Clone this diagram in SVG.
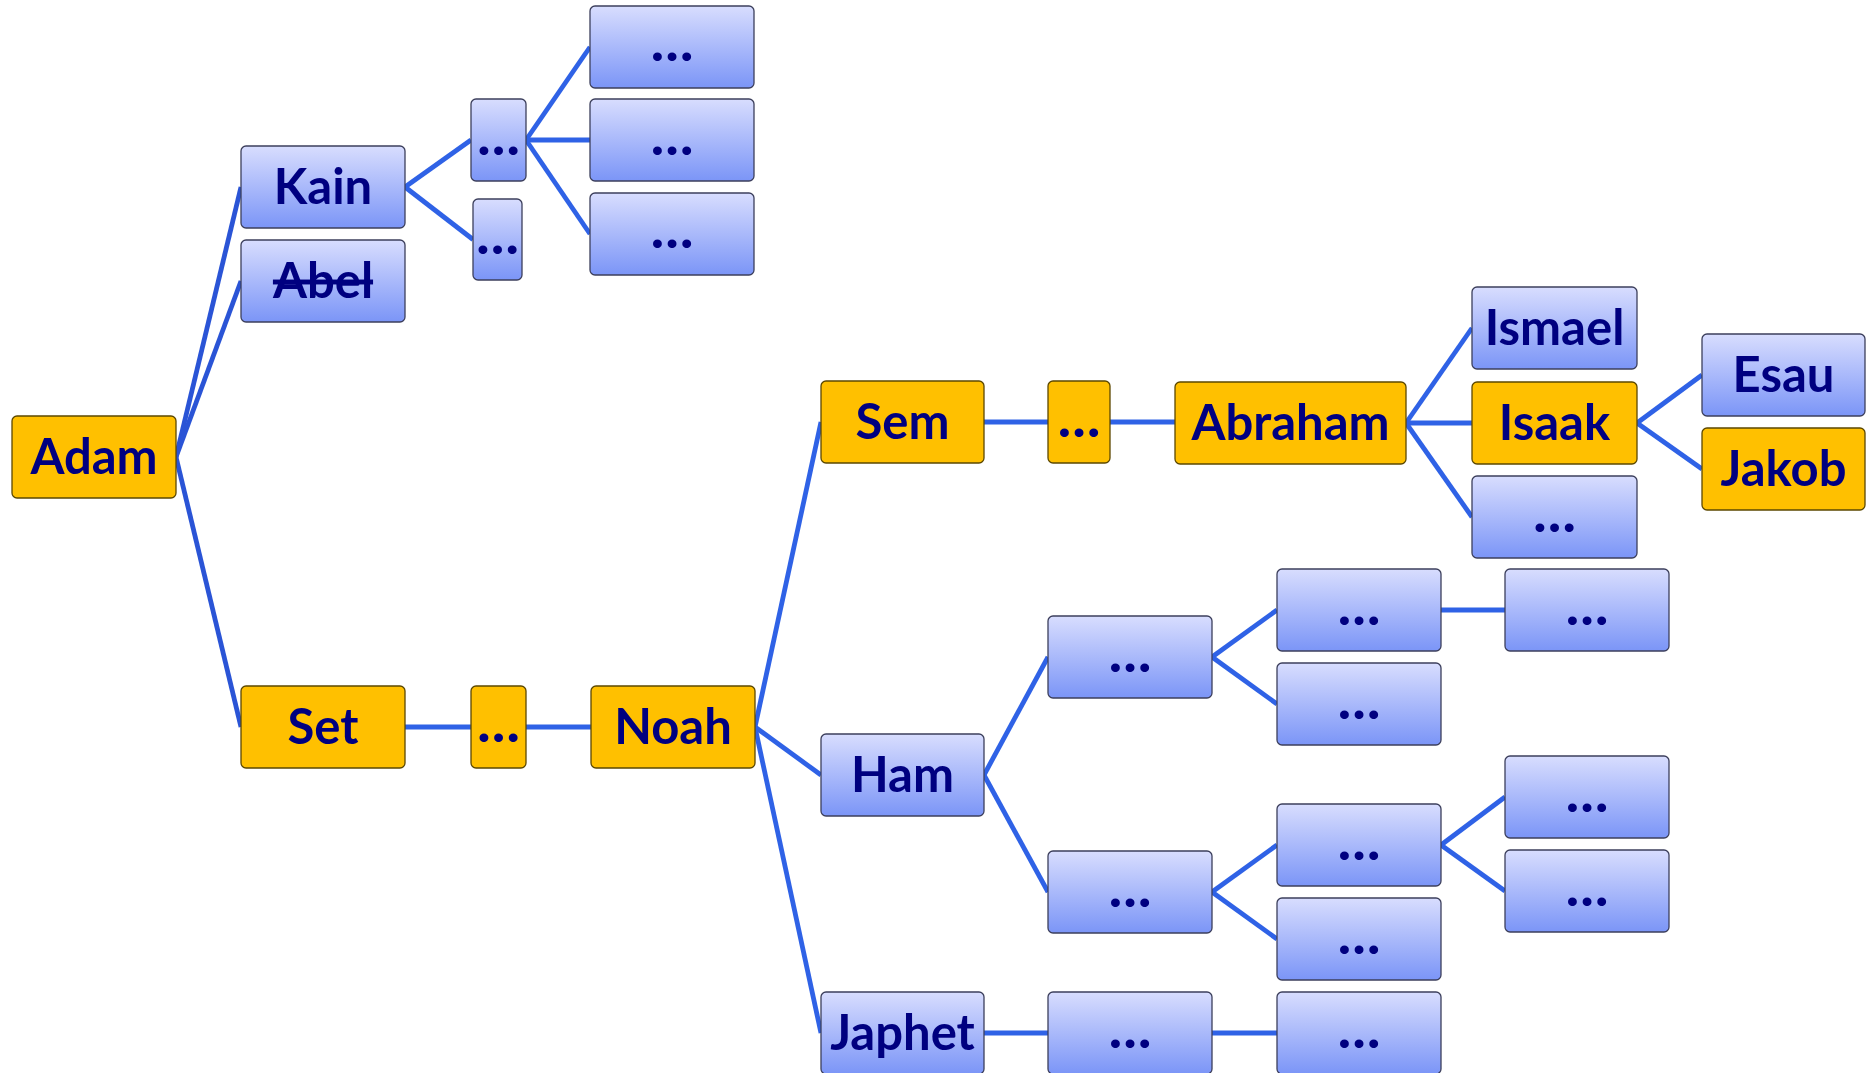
<svg xmlns="http://www.w3.org/2000/svg" width="1866" height="1073" viewBox="0 0 1866 1073">
<defs>
<linearGradient id="gb" x1="0" y1="0" x2="0" y2="1">
<stop offset="0" stop-color="#d8ddfe"/>
<stop offset="1" stop-color="#7b95f7"/>
</linearGradient>
<style>
.b{fill:url(#gb);stroke:#3c3f5c;stroke-width:1.3}
.o{fill:#ffc000;stroke:#5c4800;stroke-width:1.3}
text{font-family:Lato,"Open Sans","Liberation Sans",sans-serif;font-weight:700;font-size:49px;fill:#000080;text-anchor:middle}
text.e{font-size:54px;font-weight:900}
.c line{stroke:#2f62e6;stroke-width:4.8;stroke-linecap:butt}
.c .d{stroke:#2a54d6}
</style>
</defs>
<rect width="1866" height="1073" fill="#ffffff"/>
<g id="connectors" class="c">
<line class="d" x1="176" y1="457" x2="241" y2="187"/>
<line class="d" x1="176" y1="457" x2="241" y2="281"/>
<line class="d" x1="176" y1="457" x2="241" y2="727"/>
<line x1="405" y1="187" x2="471" y2="140"/>
<line x1="405" y1="187" x2="473" y2="239.5"/>
<line x1="526" y1="140" x2="590" y2="47"/>
<line x1="526" y1="140" x2="590" y2="140"/>
<line x1="526" y1="140" x2="590" y2="234"/>
<line x1="405" y1="727" x2="471" y2="727"/>
<line x1="526" y1="727" x2="591" y2="727"/>
<line x1="755" y1="727" x2="821" y2="422"/>
<line x1="755" y1="727" x2="821" y2="775"/>
<line x1="755" y1="727" x2="821" y2="1033"/>
<line x1="984" y1="422" x2="1048" y2="422"/>
<line x1="1110" y1="422" x2="1175" y2="422"/>
<line x1="1406" y1="423" x2="1472" y2="328"/>
<line x1="1406" y1="423" x2="1472" y2="423"/>
<line x1="1406" y1="423" x2="1472" y2="517"/>
<line x1="1637" y1="423" x2="1702" y2="375"/>
<line x1="1637" y1="423" x2="1702" y2="469"/>
<line x1="984" y1="775" x2="1048" y2="657"/>
<line x1="984" y1="775" x2="1048" y2="892"/>
<line x1="1212" y1="657" x2="1277" y2="610"/>
<line x1="1212" y1="657" x2="1277" y2="704"/>
<line x1="1441" y1="610" x2="1505" y2="610"/>
<line x1="1212" y1="892" x2="1277" y2="845"/>
<line x1="1212" y1="892" x2="1277" y2="939"/>
<line x1="1441" y1="845" x2="1505" y2="797"/>
<line x1="1441" y1="845" x2="1505" y2="891"/>
<line x1="984" y1="1033" x2="1048" y2="1033"/>
<line x1="1212" y1="1033" x2="1277" y2="1033"/>
</g>
<g id="adam"><rect class="o" x="12" y="416" width="164" height="82" rx="5"/><text x="94" y="474">Adam</text></g>
<g id="kain"><rect class="b" x="241" y="146" width="164" height="82" rx="5"/><text x="323" y="204">Kain</text></g>
<g id="abel"><rect class="b" x="241" y="240" width="164" height="82" rx="5"/><text x="323" y="298" text-decoration="line-through">Abel</text></g>
<g id="kain-1"><rect class="b" x="471" y="99" width="55" height="82" rx="5"/><text class="e" x="498.5" y="155">…</text></g>
<g id="kain-2"><rect class="b" x="473" y="199" width="49" height="81" rx="5"/><text class="e" x="497.5" y="254">…</text></g>
<g id="kain-1-1"><rect class="b" x="590" y="6" width="164" height="82" rx="5"/><text class="e" x="672" y="61">…</text></g>
<g id="kain-1-2"><rect class="b" x="590" y="99" width="164" height="82" rx="5"/><text class="e" x="672" y="155">…</text></g>
<g id="kain-1-3"><rect class="b" x="590" y="193" width="164" height="82" rx="5"/><text class="e" x="672" y="248">…</text></g>
<g id="set"><rect class="o" x="241" y="686" width="164" height="82" rx="5"/><text x="323" y="744">Set</text></g>
<g id="set-1"><rect class="o" x="471" y="686" width="55" height="82" rx="5"/><text class="e" x="498.5" y="742">…</text></g>
<g id="noah"><rect class="o" x="591" y="686" width="164" height="82" rx="5"/><text x="673" y="744">Noah</text></g>
<g id="sem"><rect class="o" x="821" y="381" width="163" height="82" rx="5"/><text x="902.5" y="439">Sem</text></g>
<g id="sem-1"><rect class="o" x="1048" y="381" width="62" height="82" rx="5"/><text class="e" x="1079" y="437">…</text></g>
<g id="abraham"><rect class="o" x="1175" y="382" width="231" height="82" rx="5"/><text x="1290.5" y="440">Abraham</text></g>
<g id="ismael"><rect class="b" x="1472" y="287" width="165" height="82" rx="5"/><text x="1554.5" y="345">Ismael</text></g>
<g id="isaak"><rect class="o" x="1472" y="382" width="165" height="82" rx="5"/><text x="1554.5" y="440">Isaak</text></g>
<g id="abraham-3"><rect class="b" x="1472" y="476" width="165" height="82" rx="5"/><text class="e" x="1554.5" y="532">…</text></g>
<g id="esau"><rect class="b" x="1702" y="334" width="163" height="82" rx="5"/><text x="1783.5" y="392">Esau</text></g>
<g id="jakob"><rect class="o" x="1702" y="428" width="163" height="82" rx="5"/><text x="1783.5" y="486">Jakob</text></g>
<g id="ham"><rect class="b" x="821" y="734" width="163" height="82" rx="5"/><text x="902.5" y="792">Ham</text></g>
<g id="ham-1"><rect class="b" x="1048" y="616" width="164" height="82" rx="5"/><text class="e" x="1130" y="672">…</text></g>
<g id="ham-1-1"><rect class="b" x="1277" y="569" width="164" height="82" rx="5"/><text class="e" x="1359" y="625">…</text></g>
<g id="ham-1-2"><rect class="b" x="1277" y="663" width="164" height="82" rx="5"/><text class="e" x="1359" y="719">…</text></g>
<g id="ham-1-1-1"><rect class="b" x="1505" y="569" width="164" height="82" rx="5"/><text class="e" x="1587" y="625">…</text></g>
<g id="ham-2"><rect class="b" x="1048" y="851" width="164" height="82" rx="5"/><text class="e" x="1130" y="907">…</text></g>
<g id="ham-2-1"><rect class="b" x="1277" y="804" width="164" height="82" rx="5"/><text class="e" x="1359" y="860">…</text></g>
<g id="ham-2-2"><rect class="b" x="1277" y="898" width="164" height="82" rx="5"/><text class="e" x="1359" y="954">…</text></g>
<g id="ham-2-1-1"><rect class="b" x="1505" y="756" width="164" height="82" rx="5"/><text class="e" x="1587" y="812">…</text></g>
<g id="ham-2-1-2"><rect class="b" x="1505" y="850" width="164" height="82" rx="5"/><text class="e" x="1587" y="906">…</text></g>
<g id="japhet"><rect class="b" x="821" y="992" width="163" height="82" rx="5"/><text x="902.5" y="1050">Japhet</text></g>
<g id="japhet-1"><rect class="b" x="1048" y="992" width="164" height="82" rx="5"/><text class="e" x="1130" y="1048">…</text></g>
<g id="japhet-1-1"><rect class="b" x="1277" y="992" width="164" height="82" rx="5"/><text class="e" x="1359" y="1048">…</text></g>
</svg>
